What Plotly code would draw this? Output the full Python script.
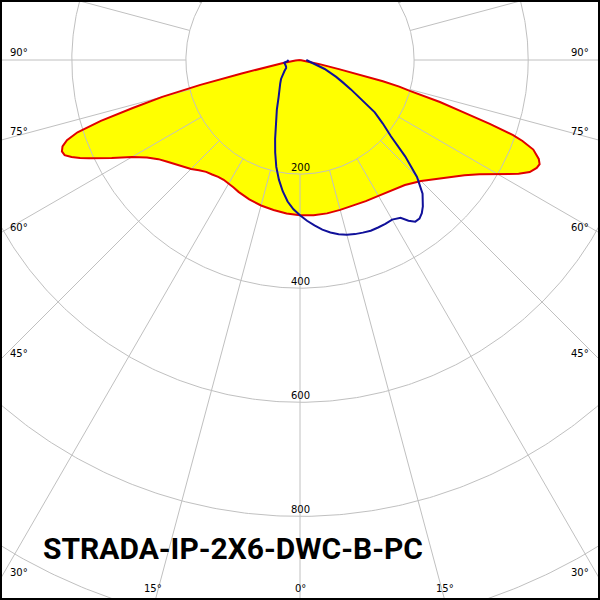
import numpy as np
import plotly.graph_objects as go

# ---- Data (gamma angle in degrees, luminous intensity in cd) ----
red_angles = [-90, -85, -80, -78, -77, -76, -75, -74, -73, -72, -71, -70, -69, -68, -67, -66, -65,
              -62.5, -60, -57.5, -55, -52.5, -50, -47.5, -45, -42.5, -40, -37.5, -35, -32.5, -30,
              -27.5, -25, -20, -15, -10, -5, 0, 5, 10, 15, 20, 25, 30, 35, 40, 45, 50, 55, 57.5,
              60, 62.5, 64, 65.5, 66.5, 67.5, 69, 70, 70.6, 71.4, 72.3, 73.3, 74.3, 75, 75.6,
              76.2, 76.8, 78, 80, 85, 90]
red_values = [0, 8, 30, 65, 105, 180, 250, 305, 365, 410, 432, 443, 447, 445, 435, 422, 408,
              372, 340, 318, 303, 293, 284, 277, 270, 262, 256, 253, 250, 249, 250,
              252, 255, 260, 264, 267, 270, 272, 273, 273, 272, 272, 273, 275, 279, 286, 300, 322, 352, 373,
              400, 432, 448, 456, 458, 453, 438, 415, 396, 351, 300, 256, 200, 180, 150,
              110, 70, 35, 18, 7, 0]

blue_angles = [-90, -85, -80, -75, -70, -65, -60, -55, -50, -45, -40, -35, -30, -25, -20, -17.5,
               -15, -12.5, -10, -7.5, -5, -2.5, 0, 2.5, 5, 7.5, 10, 12.5, 15, 17.5, 20, 22.5, 25,
               27.5, 30, 32.5, 34, 35.5, 37, 38.5, 40, 42.5, 45, 47.5, 50, 52.5, 55, 57.5, 60,
               62.5, 65, 70, 75, 80, 85, 90]
blue_values = [20, 22, 28, 28, 27, 27, 28, 33, 40, 47, 54, 62, 75, 96, 125, 145,
               168, 192, 213, 232, 249, 262, 272, 282, 291, 300, 307, 313, 317, 320, 322, 324, 324,
               324, 323, 328, 340, 348, 348, 343, 335, 318, 290, 250, 208, 183, 160, 128, 103,
               84, 70, 46, 28, 17, 13, 11]

circle_values = [200, 400, 600, 800, 1000, 1200]
circle_labels = ["200", "400", "600", "800"]
side_labels = ["90°", "75°", "60°", "45°", "30°"]
bottom_labels = ["15°", "0°", "15°"]
title_text = "STRADA-IP-2X6-DWC-B-PC"


def to_xy(angles, values):
    g = np.radians(np.asarray(angles, dtype=float))
    v = np.asarray(values, dtype=float)
    return v * np.sin(g), -v * np.cos(g)


fig = go.Figure()

# Yellow filled C0-C180 curve (fill only)
rx, ry = to_xy(red_angles, red_values)
fig.add_trace(go.Scatter(x=rx, y=ry, mode="lines", fill="toself", fillcolor="#ffff00",
                         line=dict(color="rgba(0,0,0,0)", width=0), hoverinfo="skip"))

# Grid: circles
GRID = "#c0c0c0"
t = np.linspace(0, 2 * np.pi, 721)
gx, gy = [], []
for r in circle_values:
    gx += list(r * np.cos(t)) + [None]
    gy += list(r * np.sin(t)) + [None]
# radial lines every 15 degrees starting at the first circle
for a in range(0, 360, 15):
    ar = np.radians(a)
    gx += [200 * np.sin(ar), 1400 * np.sin(ar), None]
    gy += [-200 * np.cos(ar), -1400 * np.cos(ar), None]
fig.add_trace(go.Scatter(x=gx, y=gy, mode="lines", line=dict(color=GRID, width=1),
                         hoverinfo="skip"))

# Red outline
fig.add_trace(go.Scatter(x=rx, y=ry, mode="lines", line=dict(color="#e00000", width=2),
                         hoverinfo="skip"))
# Blue C90-C270 curve
bx, by = to_xy(blue_angles, blue_values)
fig.add_trace(go.Scatter(x=bx, y=by, mode="lines", line=dict(color="#10109a", width=2),
                         hoverinfo="skip"))

S = 0.5705  # px per cd
W = 600
CY = 60
xr = [-300 / S, 300 / S]
yr = [-(W - CY) / S, CY / S]

ann = []
lab_font = dict(family="DejaVu Sans", size=10, color="black")
for v, txt in zip(circle_values, circle_labels):
    ann.append(dict(x=0, y=-v, xref="x", yref="y", text=txt, showarrow=False,
                    xanchor="center", yanchor="bottom", font=lab_font, yshift=-1))

side_y = [52, 132, 227, 353, 572]
for txt, py in zip(side_labels, side_y):
    ann.append(dict(x=8 / W, y=1 - py / W, xref="paper", yref="paper", text=txt,
                    showarrow=False, xanchor="left", yanchor="middle", font=lab_font))
    ann.append(dict(x=591 / W, y=1 - py / W, xref="paper", yref="paper", text=txt,
                    showarrow=False, xanchor="right", yanchor="middle", font=lab_font))
for txt, px in zip(bottom_labels, [153, 300, 445]):
    ann.append(dict(x=px / W, y=1 - 588 / W, xref="paper", yref="paper", text=txt,
                    showarrow=False, xanchor="center", yanchor="middle", font=lab_font))

ann.append(dict(x=41 / W, y=1 - 548 / W, xref="paper", yref="paper", text=title_text,
                showarrow=False, xanchor="left", yanchor="middle",
                font=dict(family="Roboto", size=30, color="black", weight="bold")))

fig.update_layout(
    width=600, height=600,
    margin=dict(l=0, r=0, t=0, b=0),
    paper_bgcolor="white", plot_bgcolor="white",
    showlegend=False,
    xaxis=dict(range=xr, visible=False, showgrid=False, zeroline=False, fixedrange=True),
    yaxis=dict(range=yr, visible=False, showgrid=False, zeroline=False, fixedrange=True),
    annotations=ann,
    shapes=[dict(type="rect", xref="paper", yref="paper", x0=0, x1=1, y0=0, y1=1,
                 line=dict(color="black", width=4), layer="above")],
)

fig.write_html("out.html", config={"displayModeBar": False},
               post_script="document.body.style.margin='0';document.body.style.padding='0';"
                           "document.body.style.overflow='hidden';")
